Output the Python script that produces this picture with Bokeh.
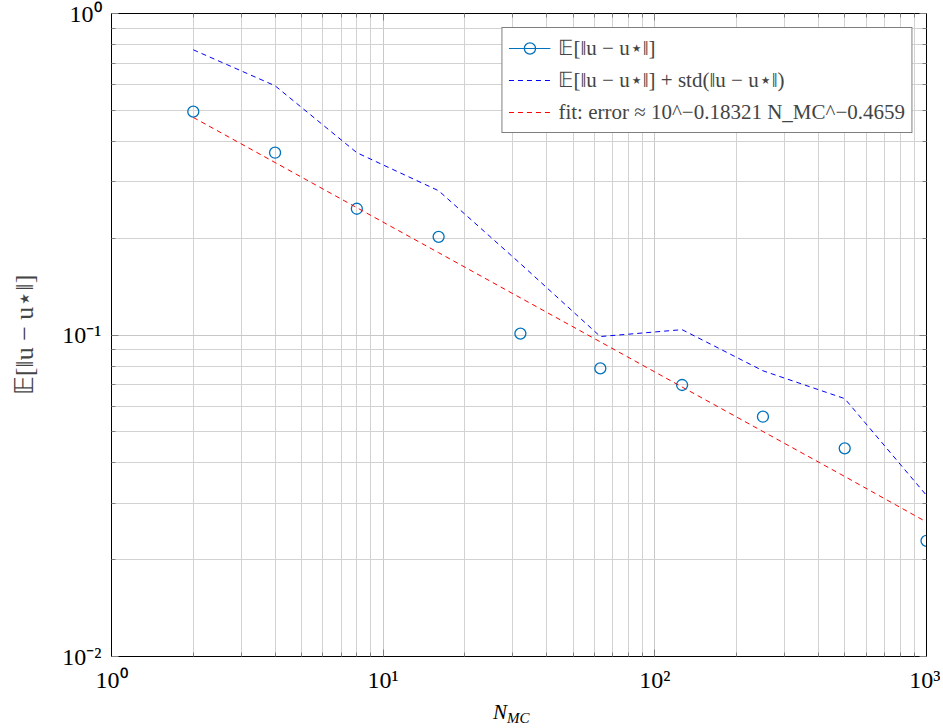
from bokeh.plotting import figure
from bokeh.models import (FixedTicker, CustomJSTickFormatter, LogAxis, Legend,
                          LegendItem, Range1d, Div)
from bokeh.layouts import column
from bokeh.embed import file_html
from bokeh.resources import INLINE

# ---- data ----
n_mc = [2, 4, 8, 16, 32, 63, 126, 250, 500, 1000]
mean_err = [0.495, 0.369, 0.247, 0.202, 0.101, 0.0787, 0.0699, 0.0557, 0.0444, 0.0229]
mean_plus_std = [0.771, 0.596, 0.369, 0.281, 0.1667, 0.0989, 0.1039, 0.0774, 0.0634, 0.0317]
fit_err = [0.4750, 0.3439, 0.2489, 0.1803, 0.1305, 0.0952, 0.0689, 0.0501, 0.0363, 0.0262]

x_major = [1, 10, 100, 1000]
x_minor = [2, 3, 4, 5, 6, 7, 8, 9, 20, 30, 40, 50, 60, 70, 80, 90,
           200, 300, 400, 500, 600, 700, 800, 900]
y_major = [0.01, 0.1, 1]
y_minor = [0.02, 0.03, 0.04, 0.05, 0.06, 0.07, 0.08, 0.09,
           0.2, 0.3, 0.4, 0.5, 0.6, 0.7, 0.8, 0.9]

label_mean = "𝔼[‖u − u⋆‖]"
label_std = "𝔼[‖u − u⋆‖] + std(‖u − u⋆‖)"
label_fit = "fit: error ≈ 10^−0.18321 N_MC^−0.4659"

FONT = "Liberation Serif"

p = figure(width=940, height=700, x_axis_type="log", y_axis_type="log",
           x_range=Range1d(1, 1000), y_range=Range1d(0.01, 1),
           output_backend="svg", toolbar_location=None,
           min_border_left=111, min_border_right=14,
           min_border_top=13, min_border_bottom=44)
p.background_fill_color = "white"
p.border_fill_color = "white"
p.outline_line_color = "black"
p.outline_line_width = 1

sup_code = """
const m = {'-':'⁻','0':'⁰','1':'¹','2':'²','3':'³','4':'⁴','5':'⁵','6':'⁶','7':'⁷','8':'⁸','9':'⁹'};
const e = Math.round(Math.log10(tick));
return '10' + String(e).split('').map(c => m[c]).join('');
"""

for ax, maj, mnr in ((p.xaxis[0], x_major, x_minor), (p.yaxis[0], y_major, y_minor)):
    ax.ticker = FixedTicker(ticks=maj, minor_ticks=mnr)
    ax.formatter = CustomJSTickFormatter(code=sup_code)
    ax.major_label_text_font = FONT
    ax.major_label_text_font_size = "24px"
    ax.major_label_text_color = "black"
    ax.major_tick_in = 7
    ax.major_tick_out = 0
    ax.minor_tick_in = 4
    ax.minor_tick_out = 0
    ax.major_tick_line_color = "#808080"
    ax.minor_tick_line_color = "#808080"
    ax.axis_line_color = "black"
    ax.major_label_standoff = 10

p.yaxis.axis_label = "𝔼[‖u − u⋆‖]"
p.yaxis.axis_label_text_font = FONT
p.yaxis.axis_label_text_font_style = "normal"
p.yaxis.axis_label_text_font_size = "26px"
p.yaxis.axis_label_standoff = 20

# mirrored axes (ticks only)
for loc, maj, mnr in (("above", x_major, x_minor), ("right", y_major, y_minor)):
    a = LogAxis(ticker=FixedTicker(ticks=maj, minor_ticks=mnr),
                formatter=CustomJSTickFormatter(code="return '';"),
                major_label_text_font_size="0px", major_label_standoff=0,
                major_tick_in=7, major_tick_out=0, minor_tick_in=4, minor_tick_out=0,
                major_tick_line_color="#808080", minor_tick_line_color="#808080",
                axis_line_color="black")
    p.add_layout(a, loc)

for g in (p.xgrid[0], p.ygrid[0]):
    g.grid_line_color = "#c8c8c8"
    g.grid_line_width = 1
    g.minor_grid_line_color = "#d2d2d2"
    g.minor_grid_line_width = 1

# ---- glyphs ----
line_hidden = p.line(n_mc, mean_err, line_color="#0072bd", line_width=1, visible=False)
circles = p.scatter(n_mc, mean_err, marker="circle", size=11, fill_color=None,
                    line_color="#0072bd", line_width=1.3)
blue = p.line(n_mc, mean_plus_std, line_color="blue", line_dash="5 4", line_width=1)
red = p.line(n_mc, fit_err, line_color="red", line_dash="5 4", line_width=1)

legend = Legend(items=[
    LegendItem(label=label_mean, renderers=[line_hidden, circles]),
    LegendItem(label=label_std, renderers=[blue]),
    LegendItem(label=label_fit, renderers=[red]),
], location="top_right", margin=14, border_line_color="black", border_line_width=1,
    background_fill_color="white", background_fill_alpha=1,
    label_text_font=FONT, label_text_font_size="21px",
    glyph_width=42, glyph_height=28, label_height=28, spacing=4, padding=6,
    label_standoff=8)
p.add_layout(legend)

# x-axis label N_MC (with subscript) below the figure
xlabel = Div(text=('<div style="margin:-3px 0 0 488px;line-height:1;'
                   'font-family:\'Liberation Serif\';font-size:21px;font-style:italic;'
                   'color:black;white-space:nowrap;">N<span style="font-size:15px;'
                   'position:relative;top:4px;">MC</span></div>'),
             width=940, height=27)

layout = column(p, xlabel, spacing=0)

open("out.html", "w").write(file_html(layout, INLINE))
